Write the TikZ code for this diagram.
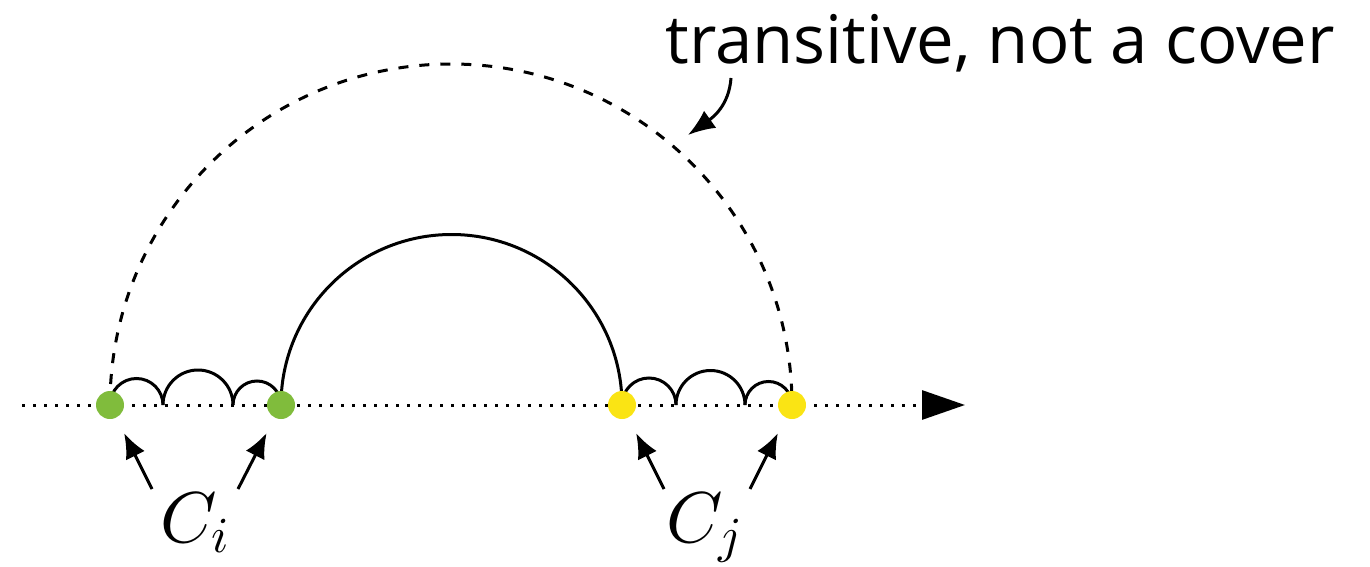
\RequirePackage{fix-cm}
\documentclass[tikz,border=0pt]{standalone}
\usepackage{fontspec}
\newfontfamily\labelfont{Open Sans}
\DeclareFontShape{OML}{cmm}{m}{it}{<-> cmmi10}{\skewchar\font'177}
\usetikzlibrary{arrows.meta}
\definecolor{dotgreen}{RGB}{128,188,60}
\definecolor{dotyellow}{RGB}{250,228,20}
\begin{document}
\begin{tikzpicture}[x=0.5pt,y=-0.5pt,line width=1.5pt,
  dotnode/.style={circle,inner sep=0pt,minimum size=14pt,draw=none},
  axisline/.style={dash pattern=on 1.5pt off 4pt,-{Triangle[length=21.5pt,width=14.5pt]}},
  cover/.style={line width=1.5pt},
  transitive/.style={line width=1.5pt,dash pattern=on 5pt off 5.5pt},
  ptr/.style={-{Latex[length=12.5pt,width=10.5pt]},line width=1.5pt,shorten >=8pt},
  mathlabel/.style={anchor=base,inner sep=0pt,font=\fontsize{36}{43}\selectfont}]
\useasboundingbox (0,0) rectangle (1370,567);
% points on the axis
\coordinate (p1) at (110,405);
\coordinate (j1) at (163,405);
\coordinate (j2) at (233,405);
\coordinate (p2) at (281,405);
\coordinate (p3) at (622,405);
\coordinate (k1) at (676,405);
\coordinate (k2) at (745,405);
\coordinate (p4) at (792,405);
\coordinate (axstart) at (22,405);
\coordinate (axend) at (965,405);
% axis
\draw[axisline] (axstart) -- (axend);
% covers
\draw[cover] (p1) arc[start angle=180,end angle=0,radius=13.25pt];
\draw[cover] (j1) arc[start angle=180,end angle=0,radius=17.5pt];
\draw[cover] (j2) arc[start angle=180,end angle=0,radius=12pt];
\draw[cover] (p2) arc[start angle=180,end angle=0,radius=85.25pt];
\draw[cover] (p3) arc[start angle=180,end angle=0,radius=13.5pt];
\draw[cover] (k1) arc[start angle=180,end angle=0,radius=17.25pt];
\draw[cover] (k2) arc[start angle=180,end angle=0,radius=11.75pt];
% transitive
\draw[transitive] (p1) arc[start angle=180,end angle=0,radius=170.5pt];
% dots
\node[dotnode,fill=dotgreen] (g1) at (p1) {};
\node[dotnode,fill=dotgreen] (g2) at (p2) {};
\node[dotnode,fill=dotyellow] (y1) at (p3) {};
\node[dotnode,fill=dotyellow] (y2) at (p4) {};
% labels
\node[mathlabel] (ci) at (195,542) {$C_i$};
\node[mathlabel] (cj) at (705,542) {$C_j$};
\coordinate (ca1) at (152,489);
\coordinate (ca2) at (238,489);
\coordinate (cb1) at (664,489);
\coordinate (cb2) at (750,489);
\draw[ptr] (ca1) -- (g1);
\draw[ptr] (ca2) -- (g2);
\draw[ptr] (cb1) -- (y1);
\draw[ptr] (cb2) -- (y2);
% annotation
\node[anchor=base west,inner sep=0pt,font=\labelfont\fontsize{33.5}{40}\selectfont] (lbl) at (664,64) {transitive, not a cover};
\coordinate (tstart) at (731,78);
\coordinate (ttip) at (688,135);
\draw[-{Latex[length=13.5pt,width=10.5pt]}] (tstart) .. controls (729,106) and (712,118) .. (ttip);
\end{tikzpicture}
\end{document}
